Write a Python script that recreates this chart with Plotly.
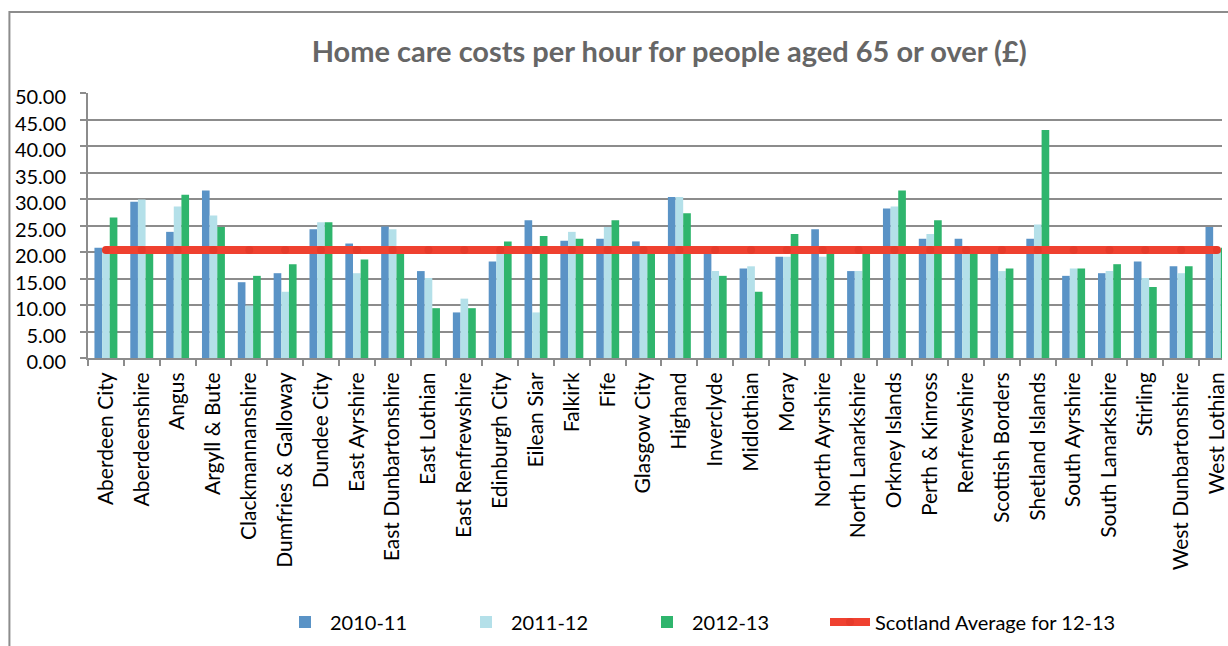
import plotly.graph_objects as go

# Council areas and hourly home care cost (GBP) for people aged 65+
councils = [
    "Aberdeen City", "Aberdeenshire", "Angus", "Argyll & Bute", "Clackmannanshire",
    "Dumfries & Galloway", "Dundee City", "East Ayrshire", "East Dunbartonshire",
    "East Lothian", "East Renfrewshire", "Edinburgh City", "Eilean Siar", "Falkirk",
    "Fife", "Glasgow City", "Highand", "Inverclyde", "Midlothian", "Moray",
    "North Ayrshire", "North Lanarkshire", "Orkney Islands", "Perth & Kinross",
    "Renfrewshire", "Scottish Borders", "Shetland Islands", "South Ayrshire",
    "South Lanarkshire", "Stirling", "West Dunbartonshire", "West Lothian",
]

cost_2010_11 = [20.8, 29.5, 23.8, 31.6, 14.3, 16.0, 24.3, 21.6, 24.8, 16.4, 8.6,
                18.2, 26.0, 22.1, 22.5, 22.0, 30.4, 20.5, 16.9, 19.1, 24.3, 16.4,
                28.2, 22.5, 22.5, 20.2, 22.5, 15.5, 16.0, 18.2, 17.3, 24.7]
cost_2011_12 = [20.3, 29.9, 28.6, 26.9, 9.9, 12.5, 25.6, 16.0, 24.3, 15.1, 11.2,
                19.7, 8.6, 23.8, 24.7, 20.0, 30.4, 16.4, 17.3, 19.1, 19.1, 16.4,
                28.6, 23.4, 20.4, 16.4, 25.2, 16.9, 16.4, 15.1, 16.0, 20.2]
cost_2012_13 = [26.5, 20.0, 30.8, 24.7, 15.5, 17.7, 25.6, 18.6, 19.8, 9.4, 9.4,
                22.0, 23.0, 22.5, 26.0, 20.7, 27.3, 15.5, 12.5, 23.4, 19.7, 19.7,
                31.6, 26.0, 21.0, 16.9, 43.0, 16.9, 17.7, 13.4, 17.3, 20.8]
scotland_avg_2012_13 = 20.4

y_ticks = [0, 5, 10, 15, 20, 25, 30, 35, 40, 45, 50]

FONT = "Lato"
GRID = "#8C8C8C"

fig = go.Figure()
for name, vals, colour in [
    ("2010-11", cost_2010_11, "#5A93C6"),
    ("2011-12", cost_2011_12, "#B4E0E9"),
    ("2012-13", cost_2012_13, "#2FB56D"),
]:
    fig.add_trace(go.Bar(x=councils, y=vals, name=name, marker_color=colour,
                         marker_line_width=0, legend="legend"))

# Scotland-wide average drawn across every council, with its own legend box
fig.add_trace(go.Scatter(
    x=councils, y=[scotland_avg_2012_13] * len(councils),
    name="Scotland Average for 12-13", mode="lines+markers",
    line=dict(color="#EF4130", width=8),
    marker=dict(color="#E63A2A", size=8),
    legend="legend2",
))

legend_common = dict(orientation="h", xref="container", yref="container",
                     xanchor="left", y=0.037, yanchor="middle",
                     font=dict(size=20), itemwidth=40, traceorder="normal")

fig.update_layout(
    width=1228, height=646,
    margin=dict(l=88, r=0, t=93, b=288),
    paper_bgcolor="white", plot_bgcolor="white",
    barmode="group", bargap=0.36, bargroupgap=0,
    font=dict(family=FONT, size=20, color="black"),
    title=dict(text="<b>Home care costs per hour for people aged 65 or over (£)</b>",
               x=0.545, xanchor="center", y=1 - 52 / 646, yanchor="middle",
               font=dict(family=FONT, size=29, color="#666666")),
    showlegend=True,
    legend=dict(x=280 / 1228, entrywidth=126, **legend_common),
    legend2=dict(x=825 / 1228, **legend_common),
    shapes=[dict(type="rect", xref="paper", yref="paper",
                 x0=(9 - 88) / 1140, x1=1.2, y0=-3, y1=(646 - 12 - 288) / 265,
                 line=dict(color=GRID, width=2), layer="below")],
)

fig.update_xaxes(
    range=[-0.5, 31.14], tickangle=-90, ticks="outside", tickson="boundaries",
    ticklen=6, tickcolor=GRID, tickwidth=2, showline=True, linecolor=GRID,
    linewidth=2, showgrid=False, tickfont=dict(size=21, color="black"),
    ticklabelstandoff=4,
)
fig.update_yaxes(
    range=[0, 50], tickvals=y_ticks, tickformat=".2f", ticks="outside",
    ticklen=6, tickcolor=GRID, tickwidth=2, showline=True, linecolor=GRID,
    linewidth=2, showgrid=True, gridcolor=GRID, gridwidth=2, zeroline=False,
    tickfont=dict(size=20, color="black"), ticklabelstandoff=10,
    ticklabelshift=4,
)

fig.write_html("out.html")
